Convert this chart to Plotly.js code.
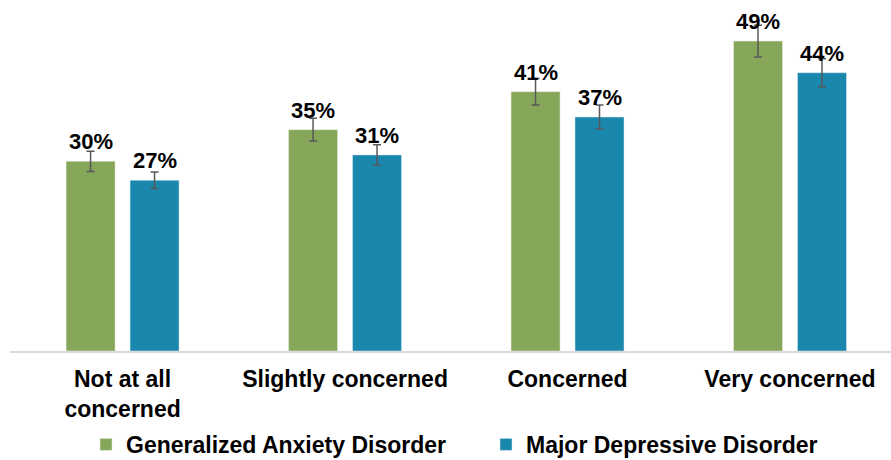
<!DOCTYPE html>
<html>
<head>
<meta charset="utf-8">
<script src="https://cdn.plot.ly/plotly-3.0.1.min.js"></script>
<style>html,body{margin:0;padding:0;background:#fff;}#chart{width:891px;height:460px;}</style>
</head>
<body>
<div id="chart"></div>
<script>
const categories = ["Not at all<br>concerned", "Slightly concerned", "Concerned", "Very concerned"];
const seriesNames = ["Generalized Anxiety Disorder", "Major Depressive Disorder"];
const gadValues = [30, 35, 41, 49];
const mddValues = [27, 31, 37, 44];
const gadErrors = [1.6, 1.8, 2.1, 2.5];
const mddErrors = [1.3, 1.6, 1.9, 2.2];
const colors = ["#86A65A", "#1A87AD"];

const FONT = "Liberation Sans, Arial, sans-serif";
const errStyle = {type: "data", visible: true, color: "#595959", thickness: 1.5, width: 4};

const traces = [
  {type: "bar", name: seriesNames[0], x: categories, y: gadValues, legend: "legend",
   marker: {color: colors[0], line: {color: "#e8efe0", width: 0.5}},
   error_y: Object.assign({array: gadErrors}, errStyle), hoverinfo: "none"},
  {type: "bar", name: seriesNames[1], x: categories, y: mddValues, legend: "legend2",
   marker: {color: colors[1], line: {color: "#dcebf2", width: 0.5}},
   error_y: Object.assign({array: mddErrors}, errStyle), hoverinfo: "none"}
];

const annotations = [];
[gadValues, mddValues].forEach((vals, s) => {
  vals.forEach((v, i) => {
    annotations.push({x: categories[i], y: v, xref: "x", yref: "y", text: v + "%",
      showarrow: false, xshift: s === 0 ? -32 : 32, yshift: 5, yanchor: "bottom",
      font: {family: FONT, size: 22, color: "#000", weight: "bold"}});
  });
});

const legendFont = {family: FONT, size: 23, color: "#000", weight: "bold"};
const layout = {
  width: 891, height: 460,
  margin: {l: 10, r: 0, t: 0, b: 109, autoexpand: false},
  paper_bgcolor: "#fff", plot_bgcolor: "#fff",
  barmode: "group", bargap: 0.425, bargroupgap: 0.234,
  showlegend: true,
  legend: {orientation: "h", xref: "container", yref: "paper", x: 86 / 891, y: -0.205, xanchor: "left", yanchor: "top",
    font: legendFont},
  legend2: {orientation: "h", xref: "container", yref: "paper", x: 486 / 891, y: -0.205, xanchor: "left", yanchor: "top",
    font: legendFont},
  xaxis: {range: [-0.506, 3.454], showline: true, linecolor: "#d9d9d9", linewidth: 1.5,
    ticks: "", showgrid: false, zeroline: false, ticklabelstandoff: 7, tickangle: 0, automargin: false,
    tickfont: {family: FONT, size: 23, color: "#000", weight: "bold"}},
  yaxis: {range: [0, 55.5], visible: false, showgrid: false, zeroline: false, automargin: false},
  annotations: annotations,
  font: {family: FONT}
};

Plotly.newPlot("chart", traces, layout, {displayModeBar: false, staticPlot: true});
</script>
</body>
</html>
